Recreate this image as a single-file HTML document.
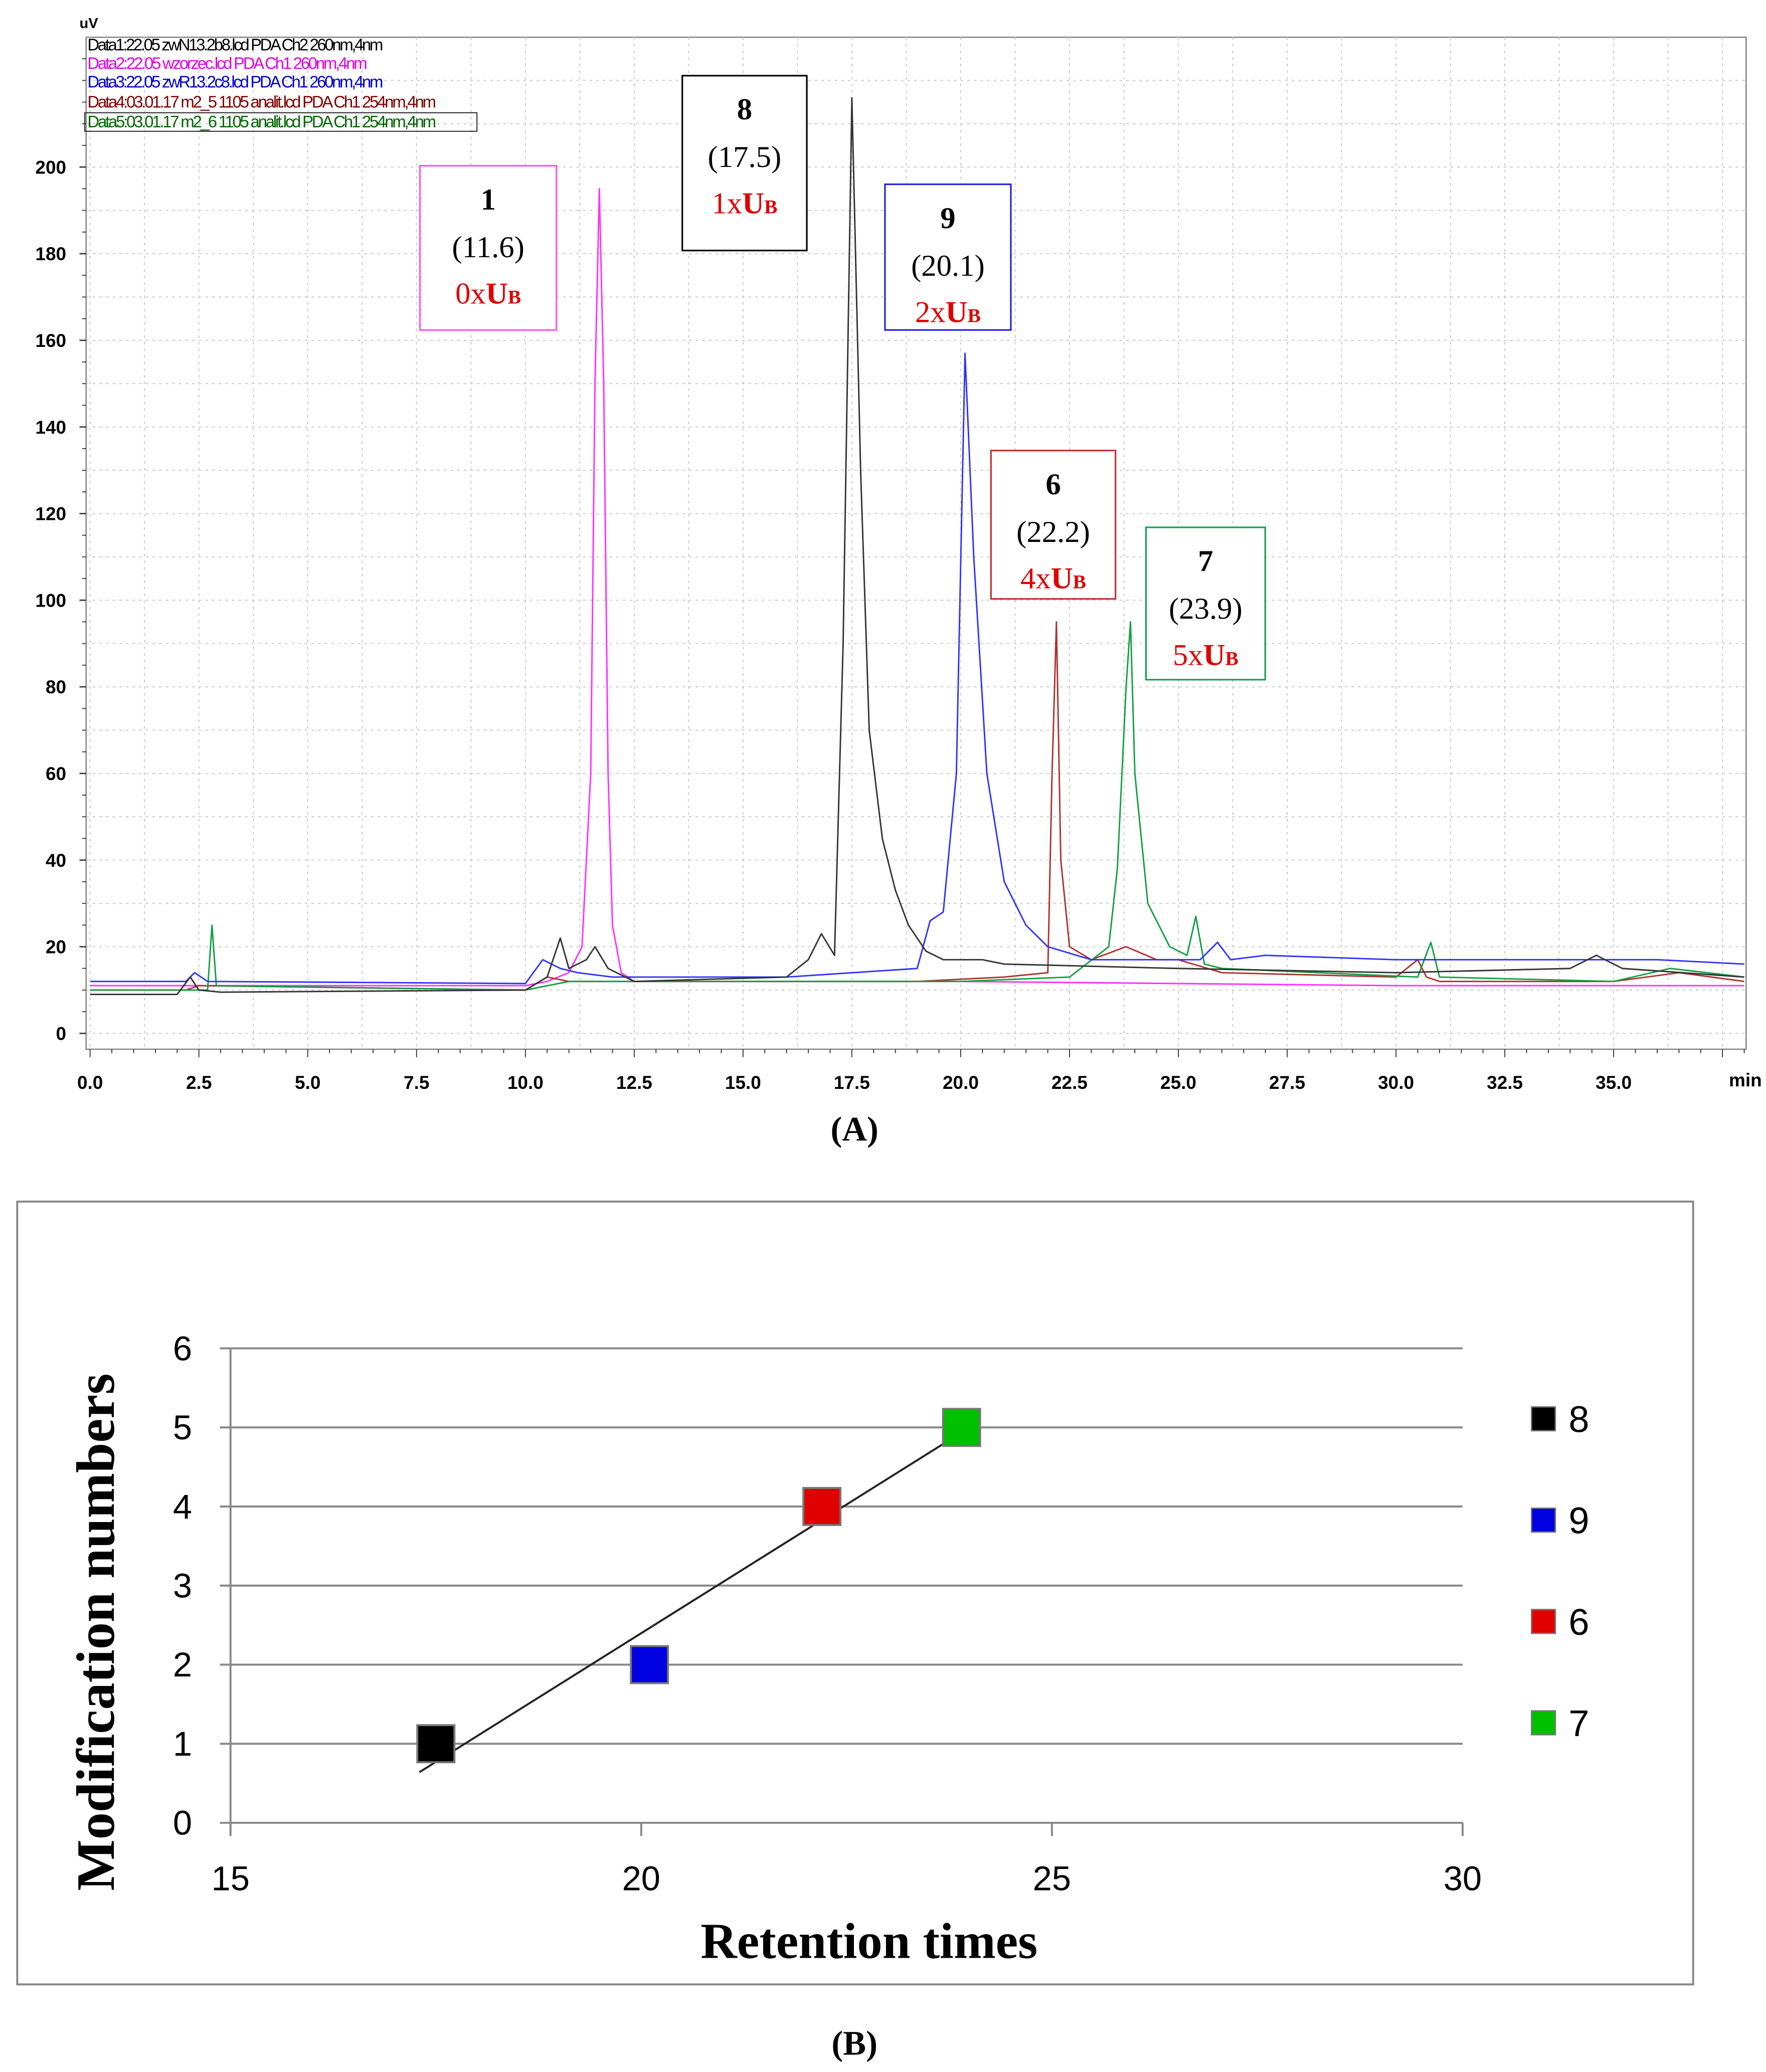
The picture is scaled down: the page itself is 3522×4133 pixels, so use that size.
<!DOCTYPE html>
<html><head><meta charset="utf-8"><style>
html,body{margin:0;padding:0;background:#fff;}
svg{display:block;}
.tk{font-family:"Liberation Sans",sans-serif;font-weight:bold;font-size:14px;}
.sr{font-family:"Liberation Serif",serif;}
.lg{font-family:"Liberation Sans",sans-serif;font-size:12.5px;letter-spacing:-1.3px;}
</style></head><body>
<svg id="root" width="3522" height="4133" viewBox="0 0 1333 1564" xmlns="http://www.w3.org/2000/svg">
<rect x="0" y="0" width="1333" height="1564" fill="#fff"/>
<g id="chartA">
 <rect x="65" y="28" width="1253" height="764" fill="#fff" stroke="#888" stroke-width="1"/>
 <g id="gridA"></g>
 <g id="ticksA"></g>
 <g id="seriesA"></g>
 <text x="60" y="21" class="tk" style="font-size:11px">uV</text>
 <text x="1305" y="820" class="tk">min</text>
 <g>
  <rect x="64" y="85" width="296" height="14" fill="none" stroke="#333" stroke-width="0.8"/>
  <text x="66" y="38" class="lg" fill="#000" textLength="222">Data1:22.05 zwN13.2b8.lcd PDA Ch2 260nm,4nm</text>
  <text x="66" y="52" class="lg" fill="#e000e0" textLength="210">Data2:22.05 wzorzec.lcd PDA Ch1 260nm,4nm</text>
  <text x="66" y="66" class="lg" fill="#0000cc" textLength="222">Data3:22.05 zwR13.2c8.lcd PDA Ch1 260nm,4nm</text>
  <text x="66" y="81" class="lg" fill="#800000" textLength="262">Data4:03.01.17 m2_5 1105 analit.lcd PDA Ch1 254nm,4nm</text>
  <text x="66" y="96" class="lg" fill="#006600" textLength="262">Data5:03.01.17 m2_6 1105 analit.lcd PDA Ch1 254nm,4nm</text>
 </g>
 <g id="boxes" class="sr" font-size="23" text-anchor="middle"></g>
 <text x="645" y="861" class="sr" font-size="26" font-weight="bold" text-anchor="middle">(A)</text>
</g>
<g id="chartB">
 <rect x="13" y="907" width="1265" height="591" fill="#fff" stroke="#888" stroke-width="1.5"/>
 <g id="gridB"></g>
 <g id="marksB"></g>
 <text transform="translate(86,1232) rotate(-90)" class="sr" font-size="41" font-weight="bold" text-anchor="middle">Modification numbers</text>
 <text x="656" y="1478" class="sr" font-size="38" font-weight="bold" text-anchor="middle">Retention times</text>
 <g id="legendB"></g>
 <text x="645" y="1551" class="sr" font-size="26" font-weight="bold" text-anchor="middle">(B)</text>
</g>
</svg>
<script>
// ---- Chart A data ----
const aXTicks = [0,2.5,5,7.5,10,12.5,15,17.5,20,22.5,25,27.5,30,32.5,35];
const aYTicks = [0,20,40,60,80,100,120,140,160,180,200];
const blackT = [0,2,2.3,2.5,3,10,10.5,10.8,11,11.4,11.6,11.9,12.5,16,16.5,16.8,17.1,17.3,17.5,17.7,17.9,18.2,18.5,18.8,19.2,19.6,20.5,21,25,30,34,34.6,35.2,38];
const blackV = [9,9,13,10,9.5,10,13,22,15,17,20,15,12,13,17,23,18,90,216,130,70,45,33,25,19,17,17,16,15,14,15,18,15,13];
const magT = [0,2,10,10.5,11,11.3,11.5,11.6,11.7,11.8,11.9,12.0,12.2,12.5,15,20,25,30,35,38];
const magV = [11,11,11,12,14,20,60,150,195,150,60,25,14,12,12,12,11.5,11,11,11];
const blueT = [0,2.2,2.4,2.7,10,10.4,10.8,11.2,12,16,19,19.3,19.6,19.9,20.1,20.3,20.6,21,21.5,22,23,25.5,25.9,26.2,27,30,35,36,38];
const blueV = [12,12,14,12,11.5,17,15,14,13,13,15,26,28,60,157,110,60,35,25,20,17,17,21,17,18,17,17,17,16];
const redT = [0,2.2,2.5,10,10.5,11,12,19,21,22,22.1,22.2,22.3,22.5,23,23.8,24.5,25,26,30,30.5,30.7,31,35,36.5,38];
const redV = [10,10,11,10,13,12,12,12,13,14,60,95,40,20,17,20,17,17,14,13,17,13,12,12,14,12];
const greenT = [0,2.7,2.8,2.9,10,11,12,20,22.5,23.4,23.6,23.8,23.9,24.0,24.3,24.8,25.2,25.4,25.6,26,30.5,30.8,31,35,36.3,38];
const greenV = [10,10,25,11,10,12,12,12,13,20,38,80,95,60,30,20,18,27,16,15,13,21,13,12,15,13];
// ---- Chart B data ----
const bLabels = ['8','9','6','7'];
const bTimes = [17.5,20.1,22.2,23.9];
const bMods = [1,2,4,5];
const bColors = ['#000','#0000e0','#e00000','#00c000'];
const bXTicks = [15,20,25,30];
const bYTicks = [0,1,2,3,4,5,6];

const NS='http://www.w3.org/2000/svg';
function mk(tag,attrs,parent,txt){const e=document.createElementNS(NS,tag);for(const k in attrs)e.setAttribute(k,attrs[k]);if(txt!=null)e.textContent=txt;parent.appendChild(e);return e;}
const ax=t=>68+t*(1218-68)/35, ay=v=>780-v*3.27;
const gA=document.getElementById('gridA'), tA=document.getElementById('ticksA'), sA=document.getElementById('seriesA');
for(let t=0;t<=38;t+=1.25){const x=ax(t);if(x>1318)break;const l=mk('line',{x1:x,x2:x,y1:28,y2:792,stroke:'#ccc','stroke-dasharray':'2,3','stroke-width':0.8},gA);

}
for(let v=-10;v<=230;v+=10){const y=ay(v);if(y<28||y>792)continue;const l=mk('line',{x1:65,x2:1318,y1:y,y2:y,stroke:'#ccc','stroke-dasharray':'2,3','stroke-width':0.8},gA);

}
aXTicks.forEach(t=>{const e=mk('text',{x:ax(t),y:822,'text-anchor':'middle',class:'tk'},tA,t.toFixed(1));

});
aYTicks.forEach(v=>{const e=mk('text',{x:50,y:ay(v)+5,'text-anchor':'end',class:'tk'},tA,String(v));


mk('line',{x1:60,x2:65,y1:ay(v),y2:ay(v),stroke:'#333'},tA);});
for(let v=-5;v<=225;v+=5){const y=ay(v);if(y<28||y>792)continue;mk('line',{x1:62,x2:65,y1:y,y2:y,stroke:'#333','stroke-width':0.7},tA);}
for(let t=0;t<=38;t+=0.5){const x=ax(t);if(x>1318)break;mk('line',{x1:x,x2:x,y1:792,y2:(t%2.5===0)?798:795,stroke:'#333','stroke-width':0.7},tA);}
function series(T,V,col,name){const d=T.map((t,i)=>(i?'L':'M')+Math.min(ax(t),1318).toFixed(1)+','+ay(V[i]).toFixed(1)).join('');
const p=mk('path',{d:d,fill:'none',stroke:col,'stroke-width':1.1,'stroke-linejoin':'round'},sA);

}
series(magT,magV,'#ff30ff','series-data2');
series(redT,redV,'#b03030','series-data4');
series(greenT,greenV,'#10a040','series-data5');
series(blueT,blueV,'#3030ff','series-data3');
series(blackT,blackV,'#333','series-data1');
const boxes=[['1','(11.6)','0',317,125,103,124,'#ff50ff'],['8','(17.5)','1',515,57,94,132,'#000'],['9','(20.1)','2',668,139,95,110,'#2020e0'],['6','(22.2)','4',748,340,94,112,'#c03030'],['7','(23.9)','5',865,398,90,115,'#10a050']];
const gb=document.getElementById('boxes');
boxes.forEach(b=>{const g=mk('g',{},gb);


const x=b[3],y=b[4],w=b[5],h=b[6],cx=x+w/2;
mk('rect',{x:x,y:y,width:w,height:h,fill:'#fff',stroke:b[7],'stroke-width':1.2},g);
mk('text',{x:cx,y:y+33,'font-weight':'bold'},g,b[0]);
mk('text',{x:cx,y:y+69},g,b[1]);
const t=mk('text',{x:cx,y:y+104,fill:'#e00000'},g);
t.appendChild(document.createTextNode(b[2]+'x'));
mk('tspan',{'font-weight':'bold'},t,'U');
mk('tspan',{'font-size':'15','font-weight':'bold'},t,'B');});
// ---- Chart B ----
const bx=t=>174+(t-15)*62, by=v=>1376-v*59.7;
const gB=document.getElementById('gridB'), mB=document.getElementById('marksB'), lB=document.getElementById('legendB');
bYTicks.forEach(v=>{const l=mk('line',{x1:174,x2:1104,y1:by(v),y2:by(v),stroke:'#888','stroke-width':1.5},gB);


mk('line',{x1:166,x2:174,y1:by(v),y2:by(v),stroke:'#888','stroke-width':1.5},gB);
const e=mk('text',{x:145,y:by(v)+9,'text-anchor':'end','font-family':'Liberation Sans,sans-serif','font-size':26},gB,String(v));

});
mk('line',{x1:174,x2:174,y1:by(6),y2:by(0)+8,stroke:'#888','stroke-width':1.5},gB);
bXTicks.forEach(t=>{mk('line',{x1:bx(t),x2:bx(t),y1:1376,y2:1386,stroke:'#888','stroke-width':1.5},gB);
const e=mk('text',{x:bx(t),y:1427,'text-anchor':'middle','font-family':'Liberation Sans,sans-serif','font-size':26},gB,String(t));

});
const n=bTimes.length,mx=bTimes.reduce((a,b)=>a+b)/n,my=bMods.reduce((a,b)=>a+b)/n;
let sxy=0,sxx=0;bTimes.forEach((t,i)=>{sxy+=(t-mx)*(bMods[i]-my);sxx+=(t-mx)*(t-mx);});
const sl=sxy/sxx,ic=my-sl*mx,x0=bTimes[0]-0.2,x1=bTimes[n-1];
const tl=mk('line',{x1:bx(x0),y1:by(sl*x0+ic),x2:bx(x1),y2:by(sl*x1+ic),stroke:'#222','stroke-width':1.5},mB);


bTimes.forEach((t,i)=>{const r=mk('rect',{x:bx(t)-14,y:by(bMods[i])-14,width:28,height:28,fill:bColors[i],stroke:'#777','stroke-width':1.5},mB);


const ly=1071+i*76.5;
const s=mk('rect',{x:1156,y:ly-9,width:18,height:18,fill:bColors[i],stroke:'#777'},lB);


const tx=mk('text',{x:1184,y:ly+10,'font-family':'Liberation Sans,sans-serif','font-size':28},lB,bLabels[i]);

});
</script>
</body></html>
